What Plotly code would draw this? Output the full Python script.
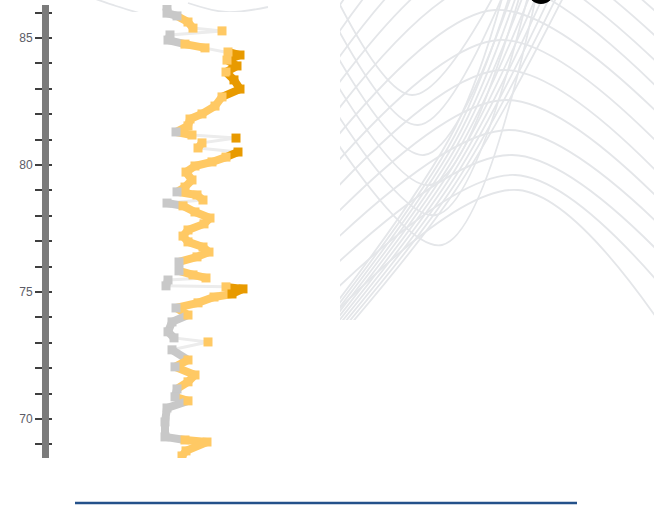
import plotly.graph_objects as go

# ---- profile data: level (vertical axis) and measured value (horizontal) ----
level = [86.26, 85.98, 85.87, 85.63, 85.39, 85.28, 85.12, 84.92, 84.76, 84.61,
         84.45, 84.33, 84.13, 83.90, 83.66, 83.35, 82.99, 82.68, 82.32, 82.01,
         81.81, 81.54, 81.30, 81.18, 81.06, 80.87, 80.67, 80.51, 80.31, 80.12,
         79.96, 79.72, 79.41, 79.13, 78.94, 78.82, 78.62, 78.50, 78.39, 78.15,
         77.91, 77.68, 77.44, 77.20, 76.97, 76.77, 76.57, 76.38, 76.18, 75.83,
         75.67, 75.55, 75.47, 75.24, 75.20, 75.12, 74.92, 74.80, 74.57, 74.37,
         74.09, 73.82, 73.43, 73.19, 73.03, 72.72, 72.32, 72.05, 71.73, 71.46,
         71.18, 70.87, 70.71, 70.43, 69.88, 69.29, 69.17, 69.09, 68.74, 68.54]
value = [1.7, 1.7, 2.7, 3.8, 4.3, 7.2, 2.0, 1.8, 3.5, 5.5,
         7.8, 9.0, 7.7, 8.7, 7.6, 8.4, 9.0, 7.2, 6.5, 5.2,
         4.0, 3.8, 2.6, 4.2, 8.6, 5.2, 4.8, 8.8, 7.6, 6.2,
         4.5, 3.6, 4.2, 3.5, 2.7, 4.7, 5.3, 1.7, 3.3, 4.5,
         6.0, 5.4, 3.8, 3.3, 3.8, 5.3, 5.9, 4.7, 2.9, 2.9,
         4.3, 5.6, 1.8, 1.6, 7.6, 9.3, 8.2, 6.4, 4.8, 2.6,
         3.8, 2.2, 1.8, 2.4, 5.8, 2.2, 3.8, 2.5, 4.5, 3.8,
         2.7, 2.5, 3.8, 1.7, 1.5, 1.5, 3.5, 5.7, 3.6, 3.2]

level_ticks = [70, 75, 80, 85]
low_cut, high_cut = 3.1, 8.0
long_jump = 2.2

# ---- decorative wave lines (anchor points, pixel-like units) ----
# arches: left end, crest position, crest height, right end
bell_left = [20, 45, 70, 95, 120, 145, 170, 195, 220, 245, 270, 295, 318]
bell_peak_u = [470, 475, 480, 485, 490, 495, 500, 503, 506, 509, 512, 515, 518]
bell_peak_v = [-120, -95, -70, -45, -20, 10, 40, 70, 100, 130, 155, 175, 190]
bell_right = [0, 20, 45, 70, 95, 120, 150, 180, 205, 230, 258, 290, 330]
# steep bundle rising from the lower left to the top node
steep_start = [318, 322, 326, 330, 334, 338, 342, 346, 350, 354]
steep_mid = [128, 135, 142, 149, 156, 163, 170, 177, 184, 191]
steep_top_u = [505, 512, 519, 526, 533, 540, 547, 554, 561, 568]
# sagging curves: left end, low point, exit at the top
sag_left = [-25, 5, 35, 65, 95, 125]
sag_low_u = [412, 418, 424, 430, 436, 442]
sag_low_v = [95, 125, 155, 185, 215, 245]
sag_top_u = [498, 506, 514, 522, 530, 538]
# two wave fragments peeking along the top edge on the left
edge_u = [[90, 116, 146], [188, 226, 268]]
edge_v = [[-3, 6, 15], [3, 12, 7]]

GRAY, ORANGE, DARK = "#c8c8c8", "#ffc964", "#e89a00"
THIN = "#ececec"
WAVE = "#e4e6e9"


def tone(v):
    if v < low_cut:
        return GRAY
    if v >= high_cut:
        return DARK
    return ORANGE


W, H = 654, 512
fig = go.Figure()

wave_line = dict(color=WAVE, width=1.8, shape="spline", smoothing=1.0)


def wave(us, vs, xa="x2", ya="y2"):
    fig.add_trace(go.Scatter(x=us, y=vs, mode="lines", line=wave_line,
                             xaxis=xa, yaxis=ya, hoverinfo="skip", showlegend=False))


for lft, pu, pv, rgt in zip(bell_left, bell_peak_u, bell_peak_v, bell_right):
    wave([330, pu, 665], [lft, pv, rgt])
for s, m, tu in zip(steep_start, steep_mid, steep_top_u):
    wave([325, 455, tu], [s, m, -12])
for lft, lu, lv, tu in zip(sag_left, sag_low_u, sag_low_v, sag_top_u):
    wave([325, lu, tu], [lft, lv, -12])
for us, vs in zip(edge_u, edge_v):
    wave(us, vs, "x3", "y4")

# profile: faint connector under the whole run, coloured where steps are short
fig.add_trace(go.Scatter(x=value, y=level, mode="lines",
                         line=dict(color=THIN, width=3),
                         hoverinfo="skip", showlegend=False))
for i in range(len(level) - 1):
    if abs(value[i + 1] - value[i]) > long_jump:
        continue
    mid = (value[i] + value[i + 1]) / 2
    fig.add_trace(go.Scatter(x=value[i:i + 2], y=level[i:i + 2], mode="lines",
                             line=dict(color=tone(mid), width=8),
                             hoverinfo="skip", showlegend=False))
fig.add_trace(go.Scatter(x=value, y=level, mode="markers",
                         marker=dict(symbol="square", size=9, color=[tone(v) for v in value]),
                         showlegend=False))
# companion axis carrying the inner half of the tick marks
fig.add_trace(go.Scatter(x=[None], y=[None], yaxis="y3", showlegend=False, hoverinfo="skip"))

tick_col = "#3f3f3f"
fig.update_layout(
    width=W, height=H, margin=dict(l=0, r=0, t=0, b=0),
    paper_bgcolor="white", plot_bgcolor="rgba(0,0,0,0)",
    xaxis=dict(domain=[49 / W, 340 / W], range=[-10.1, 19], visible=False),
    yaxis=dict(domain=[1 - 458 / H, 1 - 5 / H], range=[68.46, 86.30],
               showline=True, linewidth=7, linecolor="#7b7b7b",
               showgrid=False, zeroline=False,
               tickmode="array", tickvals=level_ticks,
               ticks="outside", ticklen=7, tickwidth=2, tickcolor=tick_col,
               minor=dict(dtick=1, tick0=70, ticks="outside", ticklen=7,
                          tickwidth=2, tickcolor=tick_col, showgrid=False),
               tickfont=dict(family="Liberation Sans", size=12, color="#5c5c66")),
    yaxis3=dict(overlaying="y", matches="y", side="left", anchor="x",
                showline=False, showgrid=False, zeroline=False, showticklabels=False,
                tickmode="array", tickvals=level_ticks,
                ticks="inside", ticklen=3, tickwidth=2, tickcolor=tick_col,
                minor=dict(dtick=1, tick0=70, ticks="inside", ticklen=3,
                           tickwidth=2, tickcolor=tick_col, showgrid=False)),
    xaxis2=dict(domain=[340 / W, 1], range=[340, 654], visible=False, anchor="y2"),
    yaxis2=dict(domain=[1 - 320 / H, 1], range=[320, 0], visible=False, anchor="x2"),
    xaxis3=dict(domain=[60 / W, 340 / W], range=[60, 340], visible=False, anchor="y4"),
    yaxis4=dict(domain=[1 - 12 / H, 1], range=[12, 0], visible=False, anchor="x3"),
    shapes=[
        dict(type="circle", xref="x2", yref="y2", x0=528, x1=554, y0=-22, y1=4,
             fillcolor="black", line=dict(width=0)),
        dict(type="line", xref="paper", yref="paper", x0=75 / W, x1=577 / W,
             y0=1 - 503 / H, y1=1 - 503 / H, line=dict(color="#24518a", width=2.5)),
    ],
)

fig.write_html("out.html")
